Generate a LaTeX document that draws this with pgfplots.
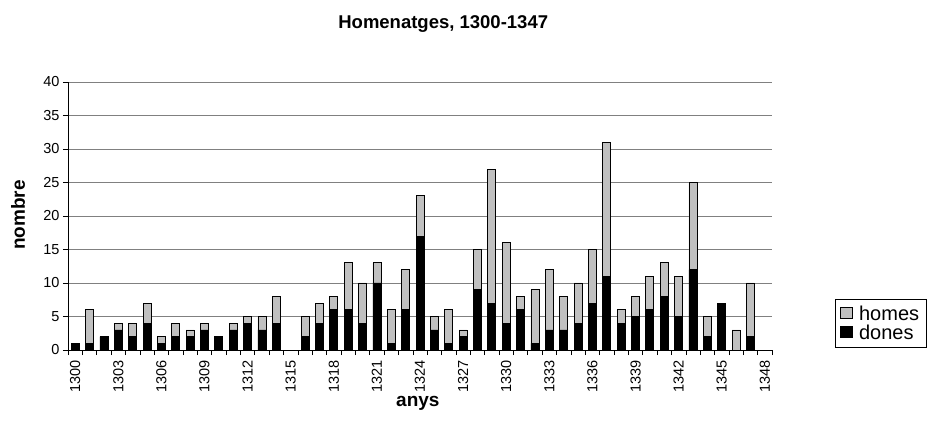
\documentclass[border=0pt]{standalone}
\usepackage{pgfplots}
\pgfplotsset{compat=1.18}
\usepackage{fontspec}
\setmainfont{Liberation Sans}
\definecolor{homesgray}{HTML}{C0C0C0}
\definecolor{gridgray}{HTML}{808080}

% anys 1300..1348 -> x = 0..48
\pgfplotstableread{
x dones homes
0 1 0
1 1 5
2 2 0
3 3 1
4 2 2
5 4 3
6 1 1
7 2 2
8 2 1
9 3 1
10 2 0
11 3 1
12 4 1
13 3 2
14 4 4
15 0 0
16 2 3
17 4 3
18 6 2
19 6 7
20 4 6
21 10 3
22 1 5
23 6 6
24 17 6
25 3 2
26 1 5
27 2 1
28 9 6
29 7 20
30 4 12
31 6 2
32 1 8
33 3 9
34 3 5
35 4 6
36 7 8
37 11 20
38 4 2
39 5 3
40 6 5
41 8 5
42 5 6
43 12 13
44 2 3
45 7 0
46 0 3
47 2 8
}\homenatges

\begin{document}
\begin{tikzpicture}
\begin{axis}[
  scale only axis, width=704pt, height=268pt,
  ybar stacked, bar width=8pt,
  xmin=-0.5, xmax=48.5, ymin=0, ymax=40,
  axis x line*=bottom, axis y line*=left,
  axis line style={-, black, line width=0.8pt},
  xtick={0,3,...,48},
  xticklabels={1300,1303,1306,1309,1312,1315,1318,1321,1324,1327,1330,1333,1336,1339,1342,1345,1348},
  major x tick style={draw=none},
  minor xtick={-0.5,0.5,...,48.5},
  minor x tick style={black, line width=0.6pt},
  ytick={0,5,...,40},
  ytick style={black, line width=0.6pt},
  tick align=outside, major tick length=5pt, minor tick length=5pt,
  ymajorgrids, grid style={gridgray, line width=0.8pt},
  /pgf/number format/assume math mode=true,
  tick label style={font=\fontsize{14.5}{16}\selectfont},
  x tick label style={rotate=90, anchor=east, xshift=-2pt},
  title={Homenatges, 1300-1347},
  title style={font=\fontsize{18.5}{20}\selectfont\bfseries, at={(axis description cs:0.533,1.194)}, anchor=center},
  xlabel={anys}, ylabel={nombre},
  xlabel style={font=\fontsize{19}{20}\selectfont\bfseries, at={(axis description cs:0.497,-0.198)}, anchor=center},
  ylabel style={font=\fontsize{19}{20}\selectfont\bfseries, at={(axis description cs:-0.071,0.504)}, anchor=center},
  reverse legend,
  legend style={at={(axis description cs:1.0895,0.19)}, anchor=north west,
    draw=black, line width=0.6pt, font=\fontsize{20}{21}\selectfont,
    inner xsep=5pt, inner ysep=5pt, row sep=0pt,
    nodes={inner ysep=1.5pt},
    /tikz/every odd column/.append style={column sep=4pt}},
  legend cell align=left,
  legend image code/.code={\draw[#1, draw=black, line width=0.8pt] (4pt,-5pt) rectangle (16pt,6pt);},
]
\addplot[fill=black, draw=black, line width=0.8pt] table[x=x, y=dones] {\homenatges};
\addplot[fill=homesgray, draw=black, line width=0.8pt] table[x=x, y=homes] {\homenatges};
\legend{dones, homes}
\end{axis}
\pgfresetboundingbox
\useasboundingbox ([shift={(-68pt,-88pt)}]current axis.south west) rectangle ([shift={(165pt,82pt)}]current axis.north east);
\end{tikzpicture}
\end{document}
